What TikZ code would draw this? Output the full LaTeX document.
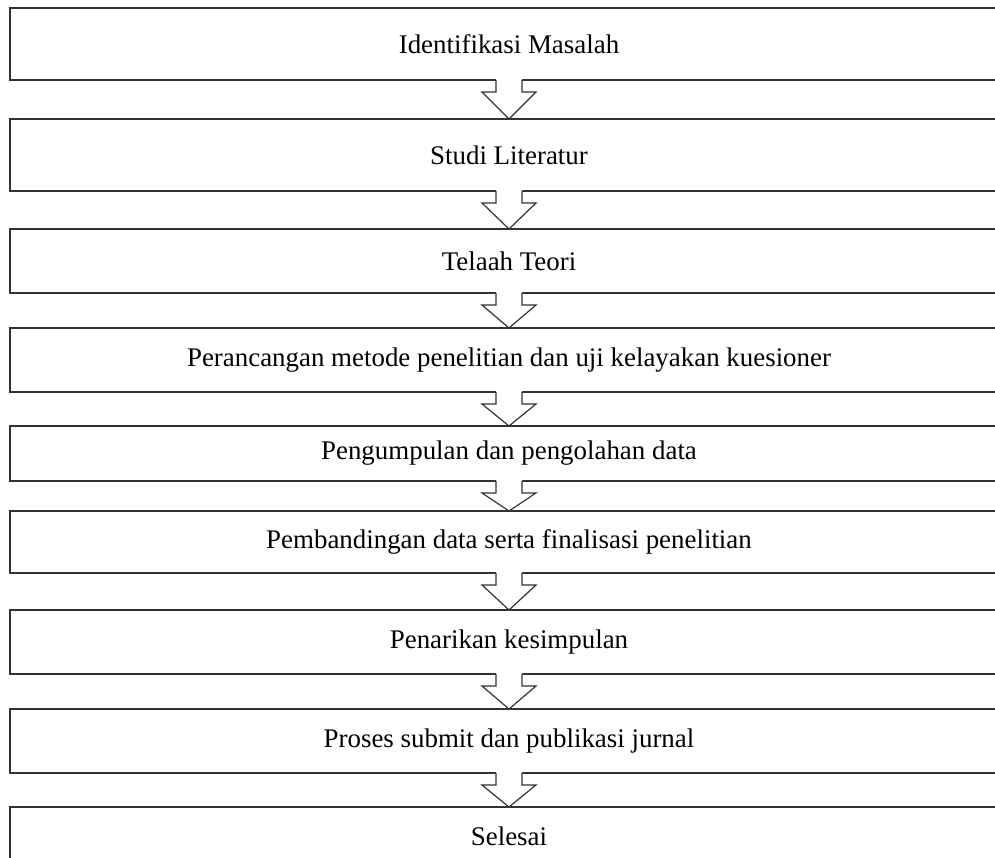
\documentclass[tikz,border=0pt]{standalone}
\usepackage{fontspec}
\setmainfont{Liberation Serif}
\usetikzlibrary{calc}

\begin{document}
\begin{tikzpicture}[
    x=1pt, y=-1pt,
    stepbox/.style={rectangle,draw=black!80,line width=1.2pt,inner sep=0pt,outer sep=0pt,minimum width=998pt},
    font=\fontsize{26.9}{30}\selectfont
    ]

    \useasboundingbox (0,0) rectangle (995,857);

    % steps:
    \foreach \i/\yt/\yb/\txt in {
        1/8/80/Identifikasi Masalah,
        2/119/191/Studi Literatur,
        3/229/293/Telaah Teori,
        4/328/392/Perancangan metode penelitian dan uji kelayakan kuesioner,
        5/426/481/Pengumpulan dan pengolahan data,
        6/511/573/Pembandingan data serta finalisasi penelitian,
        7/610/674/Penarikan kesimpulan,
        8/709/773/Proses submit dan publikasi jurnal,
        9/807/866/Selesai}
    {
        \pgfmathsetmacro{\yc}{(\yt+\yb)/2}
        \pgfmathsetmacro{\hh}{\yb-\yt}
        \node (b\i) at (509, \yc) [stepbox, minimum height=\hh pt] {\txt};
    }

    % block arrows between the steps
    \foreach \a/\b in {1/2,2/3,3/4,4/5,5/6,6/7,7/8,8/9}
    {
        \fill[white] let \p1=(b\a.south), \p2=(b\b.north) in
            (\x1-13pt,\y1+1.5pt) -- (\x1-13pt,\y1-12pt) -- (\x1-27pt,\y1-12pt)
            -- (\x2,\y2) -- (\x1+27pt,\y1-12pt) -- (\x1+13pt,\y1-12pt)
            -- (\x1+13pt,\y1+1.5pt) -- cycle;
        \draw[black!80, line width=1.2pt, line join=miter] let \p1=(b\a.south), \p2=(b\b.north) in
            (\x1-13pt,\y1) -- (\x1-13pt,\y1-12pt) -- (\x1-27pt,\y1-12pt)
            -- (\x2,\y2) -- (\x1+27pt,\y1-12pt) -- (\x1+13pt,\y1-12pt)
            -- (\x1+13pt,\y1);
    }

\end{tikzpicture}
\end{document}
